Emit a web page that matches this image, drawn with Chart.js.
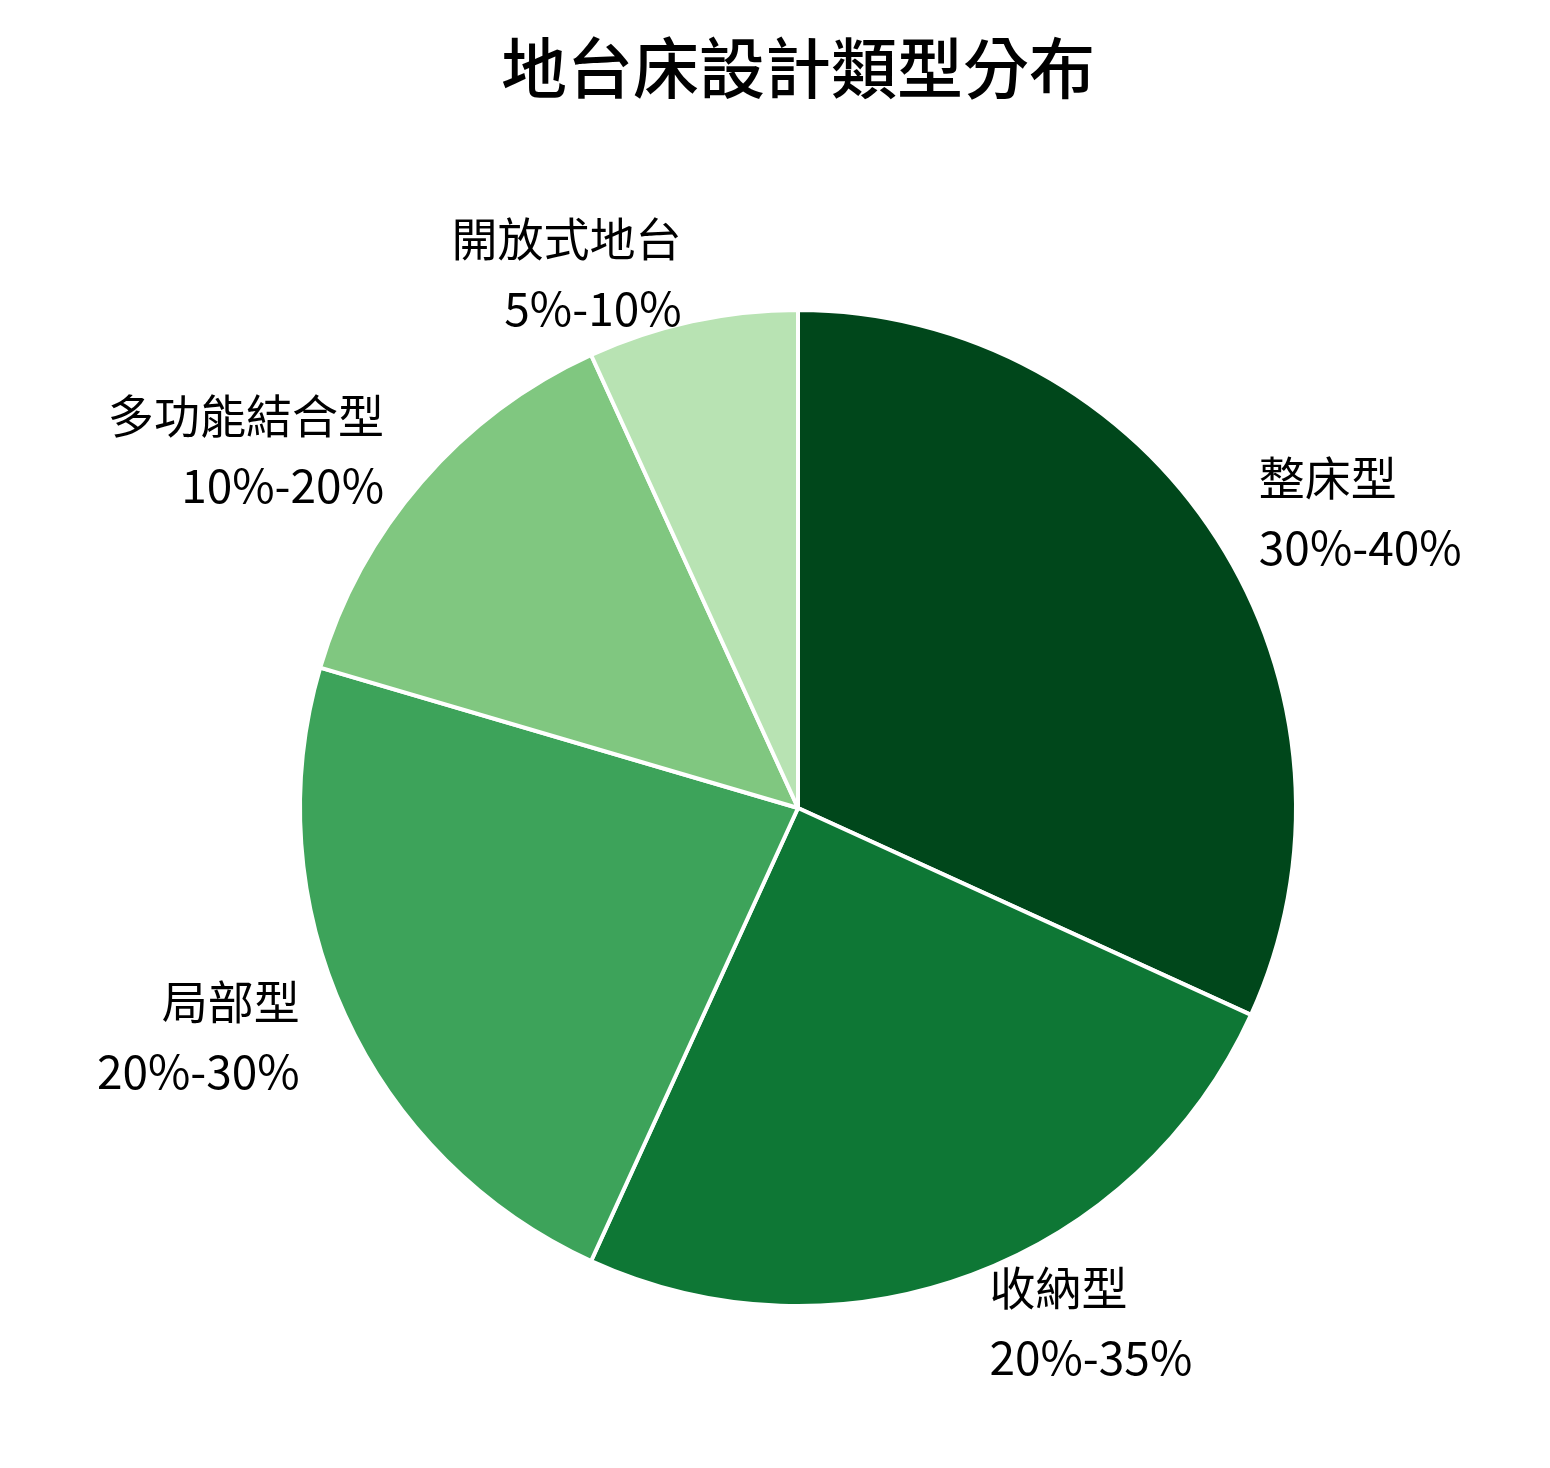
<!DOCTYPE html>
<html><head><meta charset="utf-8">
<script src="https://cdn.jsdelivr.net/npm/chart.js@4/dist/chart.umd.min.js"></script>
<style>body{margin:0;background:#fff}</style>
</head><body>
<canvas id="c" width="1550" height="1468"></canvas>
<script>
const categories = ['整床型', '收納型', '局部型', '多功能結合型', '開放式地台'];
const ranges = ['30%-40%', '20%-35%', '20%-30%', '10%-20%', '5%-10%'];
const values = [35, 27.5, 25, 15, 7.5];
const colors = ['#00471b', '#0e7735', '#3da35a', '#80c780', '#b8e3b3'];
const FONT = '"Noto Sans CJK TC", "Noto Sans", sans-serif';

const labelPlugin = {
  id: 'outerLabels',
  afterDraw(chart) {
    const ctx = chart.ctx;
    ctx.save();
    ctx.fillStyle = '#000';
    ctx.font = '500 66px ' + FONT;
    ctx.textAlign = 'center';
    ctx.textBaseline = 'middle';
    ctx.fillText('地台床設計類型分布', 798, 68);
    ctx.font = '46px ' + FONT;
    chart.getDatasetMeta(0).data.forEach((arc, i) => {
      const mid = (arc.startAngle + arc.endAngle) / 2;
      const r = arc.outerRadius * 1.1;
      const x = arc.x + Math.cos(mid) * r;
      const y = arc.y + Math.sin(mid) * r;
      ctx.textAlign = Math.cos(mid) >= 0 ? 'left' : 'right';
      ctx.fillText(categories[i], x, y - 34);
      ctx.fillText(ranges[i], x, y + 36);
    });
    ctx.restore();
  }
};

new Chart(document.getElementById('c'), {
  type: 'pie',
  data: {
    labels: categories,
    datasets: [{ data: values, backgroundColor: colors, borderColor: '#fff', borderWidth: 4 }]
  },
  options: {
    responsive: false,
    animation: false,
    layout: { padding: { left: 298, right: 252, top: 308, bottom: 160 } },
    plugins: { legend: { display: false }, tooltip: { enabled: false } }
  },
  plugins: [labelPlugin]
});
</script>
</body></html>
